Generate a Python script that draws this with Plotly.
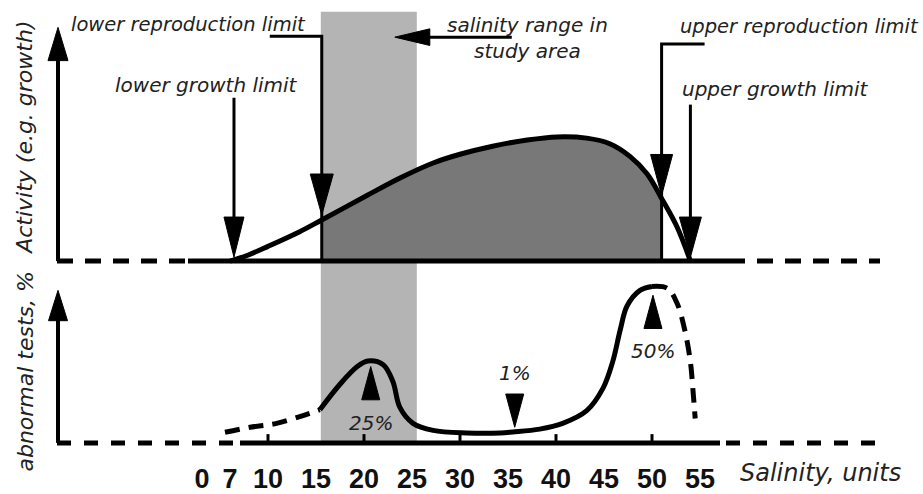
import plotly.graph_objects as go

# ------------------------------------------------------------------ data
tick_labels = [0, 7, 10, 15, 20, 25, 30, 35, 40, 45, 50, 55]
minor_ticks = [10, 20, 30, 40, 50]

activity_salinity = [7.0, 8.4, 10.0, 13.3, 15.6, 20.3, 23.75, 27.2, 30.0, 33.4,
                     37.0, 40.1, 43.2, 45.6, 47.7, 49.5, 51.0, 52.6, 54.0]
activity_level = [0.0, 0.047, 0.118, 0.236, 0.331, 0.528, 0.669, 0.79, 0.86, 0.925,
                  0.975, 1.0, 0.99, 0.945, 0.843, 0.701, 0.504, 0.276, 0.0]

growth_limits = [7.0, 54.0]
reproduction_limits = [15.6, 51.0]
study_range = [15.5, 25.5]

abn_left_salinity = [5.75, 8.58, 10.9, 13.65, 15.4]
abn_left_pct = [3.4, 5.0, 6.25, 8.75, 10.6]
abn_mid_salinity = [15.4, 17.5, 19.3, 20.4, 22.0, 23.0, 23.75, 25.1, 27.2, 30.7, 34.2,
                    35.5, 38.3, 40.7, 43.2, 44.9, 45.9, 46.7, 47.4, 48.75, 50.0]
abn_mid_pct = [10.6, 18.75, 24.4, 26.2, 25.0, 19.7, 11.25, 6.25, 4.0, 3.2, 3.2,
               3.5, 4.4, 6.25, 10.3, 17.5, 25.9, 36.25, 43.75, 48.75, 50.0]
abn_right_salinity = [50.0, 51.6, 52.6, 53.4, 54.0, 54.3, 54.5]
abn_right_pct = [50.0, 49.4, 44.7, 36.25, 25.9, 15.6, 7.8]

pct_labels = ["25%", "1%", "50%"]
pct_salinity = [20.7, 35.7, 50.1]
pct_level = [24.4, 5.0, 47.2]
pct_pointing = ["up", "down", "up"]

# ------------------------------------------------------------------ layout geometry
W, H = 923, 494
XPX = 9.6                    # pixels per salinity unit
X0 = 10 - 268 / XPX          # axis value at left edge
X1 = X0 + W / XPX
LOW_BASE_PX, LOW_PPU = 453, 3.2      # lower panel: baseline pixel, px per %
TOP_BASE_PX, TOP_PPU = 267, 127      # upper panel: baseline pixel, px per activity unit
Y1_RANGE = [-(H - LOW_BASE_PX) / LOW_PPU, LOW_BASE_PX / LOW_PPU]
Y2_RANGE = [-(H - TOP_BASE_PX) / TOP_PPU, TOP_BASE_PX / TOP_PPU]


def pos(s):
    """broken salinity axis: 0..10 is compressed"""
    if s >= 10:
        return s
    if s >= 7:
        return 6.04 + (s - 7) * (10 - 6.04) / 3
    return 3.125 + s * (6.04 - 3.125) / 7


def xat(px):
    return X0 + px / XPX


def a_at(py):
    return (TOP_BASE_PX - py) / TOP_PPU


def v_at(py):
    return (LOW_BASE_PX - py) / LOW_PPU


BLACK = "#000000"
TXT = "#222222"
FONT = "DejaVu Sans"

fig = go.Figure()


def line(xs, ys, axis="y", width=3, dash=None, shape="linear", color=BLACK):
    fig.add_trace(go.Scatter(x=xs, y=ys, yaxis=axis, mode="lines",
                             line=dict(color=color, width=width, dash=dash, shape=shape),
                             hoverinfo="skip"))


def tri(xtip, ytip, direction, length_px, width_px, axis="y"):
    ppu = LOW_PPU if axis == "y" else TOP_PPU
    if direction in ("up", "down"):
        sgn = -1 if direction == "up" else 1
        yb = ytip + sgn * length_px / ppu
        hw = width_px / 2 / XPX
        xs, ys = [xtip, xtip - hw, xtip + hw, xtip], [ytip, yb, yb, ytip]
    else:
        sgn = 1 if direction == "left" else -1
        xb = xtip + sgn * length_px / XPX
        hh = width_px / 2 / ppu
        xs, ys = [xtip, xb, xb, xtip], [ytip, ytip - hh, ytip + hh, ytip]
    fig.add_trace(go.Scatter(x=xs, y=ys, yaxis=axis, mode="lines", fill="toself",
                             fillcolor=BLACK, line=dict(color=BLACK, width=1),
                             hoverinfo="skip"))


# ---- upper panel: reproduction area (dark fill) and activity curve
i0 = activity_salinity.index(reproduction_limits[0])
i1 = activity_salinity.index(reproduction_limits[1])
fig.add_trace(go.Scatter(x=[pos(s) for s in activity_salinity[i0:i1 + 1]],
                         y=activity_level[i0:i1 + 1], yaxis="y2", mode="lines",
                         fill="tozeroy", fillcolor="#787878",
                         line=dict(width=0, shape="spline", color="#787878"),
                         hoverinfo="skip"))
line([pos(s) for s in activity_salinity], activity_level, "y2", width=5, shape="spline")

# reproduction limit arrows (elbow lines)
lo_lvl = activity_level[i0]
hi_lvl = activity_level[i1]
xr0, xr1 = pos(reproduction_limits[0]), pos(reproduction_limits[1])
line([xr0 - 52 / XPX, xr0, xr0], [a_at(37), a_at(37), 0], "y2", width=3)
tri(xr0, lo_lvl + 5 / TOP_PPU, "down", 42, 23, "y2")
line([xr1 + 43 / XPX, xr1, xr1], [a_at(45), a_at(45), 0], "y2", width=3)
tri(xr1, hi_lvl + 3 / TOP_PPU, "down", 42, 22, "y2")

# growth limit arrows
xg0, xg1 = pos(growth_limits[0]) + 4 / XPX, pos(growth_limits[1])
tip = 4 / TOP_PPU
line([xg0, xg0], [a_at(100), tip + 30 / TOP_PPU], "y2", width=3)
tri(xg0, tip, "down", 41, 20, "y2")
line([xg1, xg1], [a_at(107), tip + 30 / TOP_PPU], "y2", width=3)
tri(xg1, tip, "down", 41, 22, "y2")

# salinity range arrow
xs_tip = pos(study_range[1]) - 22 / XPX
line([xs_tip + 117 / XPX, xs_tip + 20 / XPX], [a_at(38), a_at(38)], "y2", width=3)
tri(xs_tip, a_at(38), "left", 35, 17, "y2")

# ---- axes arrows & baselines
AX = xat(58)
line([AX, AX], [0, a_at(55)], "y2", width=4)
tri(AX, a_at(28), "up", 34, 20, "y2")
line([AX, AX], [0, v_at(322)], "y", width=4)
tri(AX, v_at(297), "up", 31, 19, "y")

line([xat(57), xat(190)], [0, 0], "y2", width=5, dash="16px,12px")
line([xat(188), xat(745)], [0, 0], "y2", width=5)
line([xat(757), xat(880)], [0, 0], "y2", width=5, dash="16px,12px")

line([xat(57), xat(242)], [0, 0], "y", width=5, dash="14px,13px")
line([xat(240), xat(720)], [0, 0], "y", width=5)
line([xat(726), xat(880)], [0, 0], "y", width=5, dash="14px,13px")

tx, ty = [], []
for t in minor_ticks:
    tx += [pos(t), pos(t), None]
    ty += [0, 9 / LOW_PPU, None]
line(tx, ty, "y", width=3)

# ---- lower panel curve
line([pos(s) for s in abn_left_salinity], abn_left_pct, "y", width=5, dash="15px,9px", shape="spline")
line([pos(s) for s in abn_mid_salinity], abn_mid_pct, "y", width=5, shape="spline")
line([pos(s) for s in abn_right_salinity], abn_right_pct, "y", width=5, dash="15px,9px", shape="spline")

annotations = []
for lab, s, v, d in zip(pct_labels, pct_salinity, pct_level, pct_pointing):
    tri(pos(s), v, d, 34, 18, "y")
    annotations.append(dict(x=pos(s), y=v, xref="x", yref="y", text=f"<i>{lab}</i>",
                            showarrow=False, yshift=-56 if d == "up" else 54,
                            xanchor="center", yanchor="middle",
                            font=dict(family=FONT, size=20, color=TXT)))

# ---- text labels
lab_font = dict(family=FONT, size=20, color=TXT)
rep_font = dict(family=FONT, size=19.5, color=TXT)
annotations += [
    dict(x=xr0, y=a_at(25), xref="x", yref="y2", xshift=-14, xanchor="right", yanchor="middle",
         text="<i>lower reproduction limit</i>", showarrow=False, font=rep_font),
    dict(x=pos(growth_limits[0]), y=a_at(87), xref="x", yref="y2", xshift=70, xanchor="right",
         yanchor="middle", text="<i>lower growth limit</i>", showarrow=False, font=lab_font),
    dict(x=pos(study_range[1]), y=a_at(38.5), xref="x", yref="y2", xshift=111, xanchor="center",
         yanchor="middle", text="<i>salinity range in<br>study area</i>", showarrow=False,
         font=lab_font),
    dict(x=xr1, y=a_at(27), xref="x", yref="y2", xshift=16, xanchor="left", yanchor="middle",
         text="<i>upper reproduction limit</i>", showarrow=False, font=rep_font),
    dict(x=xg1, y=a_at(91), xref="x", yref="y2", xshift=-10, xanchor="left", yanchor="middle",
         text="<i>upper growth limit</i>", showarrow=False, font=lab_font),
    dict(x=25 / W, y=1 - 141 / H, xref="paper", yref="paper", textangle=-90,
         xanchor="center", yanchor="middle",
         text="<i>Activity (e.g. growth)</i>", showarrow=False,
         font=dict(family=FONT, size=22, color=TXT)),
    dict(x=26 / W, y=1 - 380 / H, xref="paper", yref="paper", textangle=-90,
         xanchor="center", yanchor="middle",
         text="<i>abnormal tests, %</i>", showarrow=False,
         font=dict(family=FONT, size=22, color=TXT)),
    dict(x=738 / W, y=1 - 484 / H, xref="paper", yref="paper", xanchor="left", yanchor="middle",
         text="<i>Salinity, units</i>", showarrow=False,
         font=dict(family=FONT, size=24, color=TXT)),
]

fig.update_layout(
    width=W, height=H, margin=dict(l=0, r=0, t=0, b=0),
    paper_bgcolor="white", plot_bgcolor="white", showlegend=False,
    annotations=annotations,
    shapes=[dict(type="rect", xref="x", yref="paper",
                 x0=pos(study_range[0]), x1=pos(study_range[1]),
                 y0=1 - LOW_BASE_PX / H, y1=1 - 12 / H,
                 fillcolor="#b4b4b4", line=dict(width=0), layer="below")],
    xaxis=dict(range=[X0, X1], showgrid=False, zeroline=False, showline=False,
               tickmode="array", tickvals=[pos(t) for t in tick_labels],
               ticktext=[f"<b>{t}</b>" for t in tick_labels], ticks="",
               anchor="free", position=1 - 470 / H,
               tickfont=dict(family="Liberation Sans", size=27, color="#111111")),
    yaxis=dict(range=Y1_RANGE, visible=False, domain=[0, 1]),
    yaxis2=dict(range=Y2_RANGE, visible=False, overlaying="y"),
)

fig.write_html("out.html")
